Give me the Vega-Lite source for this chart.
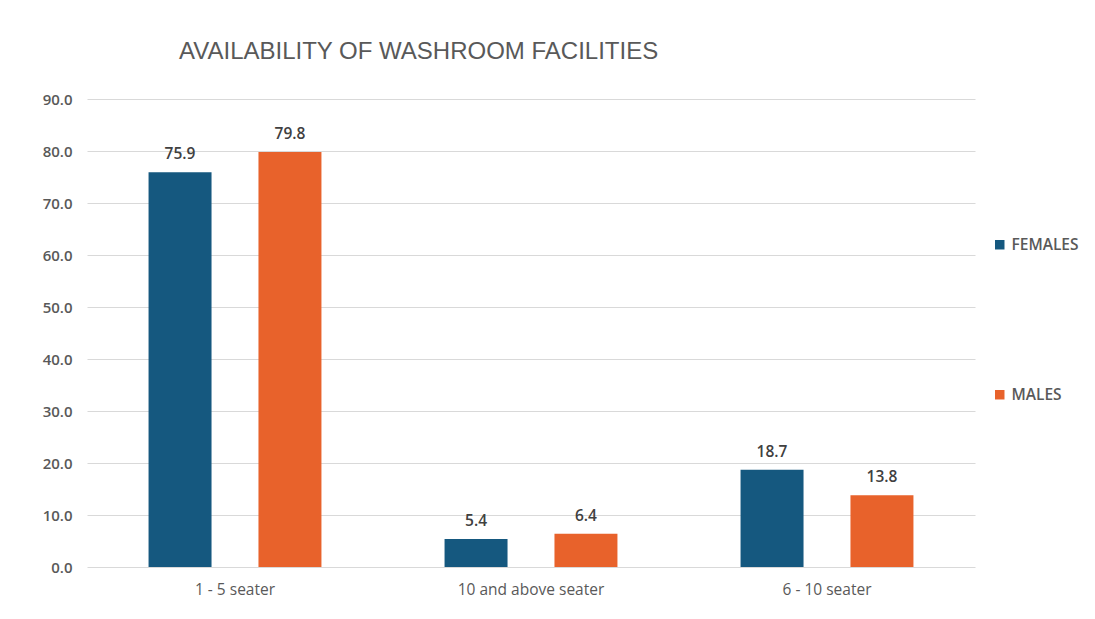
{
  "$schema": "https://vega.github.io/schema/vega-lite/v6.json",
  "autosize": {"type": "none"},
  "width": 888,
  "height": 468,
  "padding": {"left": 87, "top": 99, "right": 120, "bottom": 52},
  "background": "white",
  "title": {
    "text": "AVAILABILITY OF WASHROOM FACILITIES",
    "anchor": "start",
    "frame": "group",
    "dx": 92,
    "offset": 28,
    "font": "Liberation Sans",
    "fontSize": 24,
    "fontWeight": "normal",
    "color": "#595959"
  },
  "data": {
    "values": [
      {"facility": "1 - 5 seater", "gender": "FEMALES", "percent": 75.9},
      {"facility": "1 - 5 seater", "gender": "MALES", "percent": 79.8},
      {"facility": "10 and above seater", "gender": "FEMALES", "percent": 5.4},
      {"facility": "10 and above seater", "gender": "MALES", "percent": 6.4},
      {"facility": "6 - 10 seater", "gender": "FEMALES", "percent": 18.7},
      {"facility": "6 - 10 seater", "gender": "MALES", "percent": 13.8}
    ]
  },
  "encoding": {
    "x": {
      "field": "facility",
      "type": "nominal",
      "sort": ["1 - 5 seater", "10 and above seater", "6 - 10 seater"],
      "scale": {"paddingInner": 0, "paddingOuter": 0},
      "axis": {
        "title": null,
        "labelAngle": 0,
        "domain": false,
        "ticks": false,
        "labelPadding": 15,
        "labelFont": "Open Sans",
        "labelFontSize": 15.5,
        "labelFontWeight": "normal",
        "labelColor": "#595959"
      }
    },
    "xOffset": {
      "field": "gender",
      "type": "nominal",
      "scale": {"paddingInner": 0.427, "paddingOuter": 0.56}
    },
    "y": {
      "field": "percent",
      "type": "quantitative",
      "scale": {"domain": [0, 90], "nice": false},
      "axis": {
        "title": null,
        "values": [0, 10, 20, 30, 40, 50, 60, 70, 80, 90],
        "format": ".1f",
        "domain": false,
        "ticks": false,
        "labelPadding": 15,
        "labelFont": "Open Sans",
        "labelFontSize": 15,
        "labelFontWeight": 600,
        "labelColor": "#595959",
        "gridColor": "#d9d9d9",
        "gridWidth": 1
      }
    }
  },
  "layer": [
    {
      "mark": {"type": "bar"},
      "encoding": {
        "color": {
          "field": "gender",
          "type": "nominal",
          "scale": {"domain": ["FEMALES", "MALES"], "range": ["#15587F", "#E8622B"]},
          "legend": {
            "title": null,
            "orient": "none",
            "legendX": 905,
            "legendY": 138,
            "symbolType": "square",
            "symbolSize": 90,
            "symbolStrokeWidth": 0,
            "rowPadding": 133,
            "labelFont": "Open Sans",
            "labelFontSize": 15.5,
            "labelFontWeight": 600,
            "labelColor": "#595959",
            "labelOffset": 4
          }
        }
      }
    },
    {
      "mark": {
        "type": "text",
        "baseline": "alphabetic",
        "dy": -13,
        "font": "Open Sans",
        "fontSize": 15.5,
        "fontWeight": 600,
        "color": "#404040"
      },
      "encoding": {
        "text": {"field": "percent", "type": "quantitative", "format": ".1f"}
      }
    }
  ],
  "config": {
    "view": {"stroke": null}
  }
}
